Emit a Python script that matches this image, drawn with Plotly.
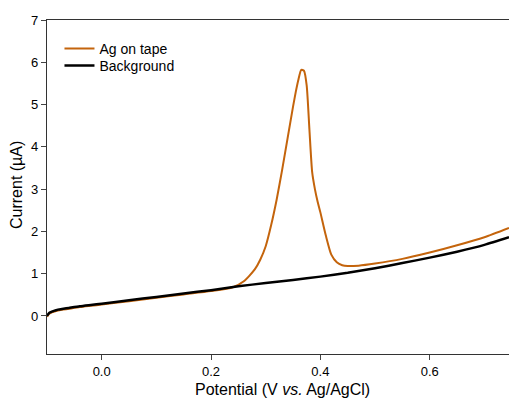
import plotly.graph_objects as go

# Background scan
bg_x = [-0.1, -0.098, -0.095, -0.09, -0.085, -0.08, -0.07, -0.06, -0.04, -0.02, 0.0,
        0.05, 0.1, 0.15, 0.2, 0.25, 0.3, 0.35, 0.4, 0.45, 0.5, 0.55, 0.6, 0.65, 0.7, 0.745]
bg_y = [0.0, 0.04, 0.08, 0.11, 0.13, 0.15, 0.17, 0.19, 0.23, 0.26, 0.29,
        0.37, 0.45, 0.53, 0.61, 0.70, 0.78, 0.85, 0.93, 1.02, 1.13, 1.25, 1.38, 1.52, 1.68, 1.86]

# Ag on tape scan
ag_x = [-0.1, -0.098, -0.095, -0.09, -0.085, -0.08, -0.07, -0.06, -0.04, -0.02, 0.0,
        0.05, 0.1, 0.15, 0.2, 0.24, 0.26, 0.28, 0.29, 0.30, 0.31, 0.32, 0.33, 0.34, 0.35,
        0.355, 0.36, 0.365, 0.37, 0.375, 0.38, 0.385, 0.39, 0.395, 0.40, 0.41, 0.42, 0.43,
        0.44, 0.45, 0.47, 0.5, 0.55, 0.6, 0.65, 0.7, 0.745]
ag_y = [-0.02, 0.02, 0.06, 0.09, 0.11, 0.13, 0.15, 0.17, 0.21, 0.24, 0.27,
        0.35, 0.43, 0.51, 0.59, 0.68, 0.82, 1.10, 1.33, 1.65, 2.15, 2.75, 3.45, 4.2, 4.95,
        5.3, 5.6, 5.82, 5.8, 5.45, 4.4, 3.4, 3.0, 2.7, 2.45, 1.9, 1.45, 1.27,
        1.2, 1.18, 1.19, 1.24, 1.35, 1.5, 1.67, 1.86, 2.08]

x_ticks = [0.0, 0.2, 0.4, 0.6]
x_tick_labels = ["0.0", "0.2", "0.4", "0.6"]
y_ticks = [0, 1, 2, 3, 4, 5, 6, 7]

ORANGE = "#c4640c"

fig = go.Figure()
fig.add_trace(go.Scatter(x=ag_x, y=ag_y, mode="lines", name="Ag on tape", legend="legend",
                         line=dict(color=ORANGE, width=2, shape="spline", smoothing=0.6)))
fig.add_trace(go.Scatter(x=bg_x, y=bg_y, mode="lines", name="Background", legend="legend2",
                         line=dict(color="black", width=2.5, shape="spline", smoothing=0.6)))

font = "Liberation Sans, Arial, sans-serif"
leg_common = dict(xanchor="left", yanchor="middle", bgcolor="rgba(0,0,0,0)",
                  font=dict(size=14), borderwidth=0)
fig.update_layout(
    width=509, height=401,
    margin=dict(l=47, r=0, t=20, b=47),
    paper_bgcolor="white", plot_bgcolor="white",
    font=dict(family=font, color="black", size=13),
    showlegend=True,
    legend=dict(x=0.027, y=0.9132, **leg_common),
    legend2=dict(x=0.027, y=0.8623, **leg_common),
    xaxis=dict(range=[-0.1, 0.745], tickvals=x_ticks, ticktext=x_tick_labels,
               ticks="outside", ticklen=5, tickcolor="#444", showgrid=False, zeroline=False,
               showline=True, mirror=True, linecolor="#333", linewidth=1.2,
               automargin=False, tickfont=dict(size=13)),
    yaxis=dict(range=[-0.9, 7], tickvals=y_ticks,
               ticks="outside", ticklen=5, tickcolor="#444", showgrid=False, zeroline=False,
               showline=True, mirror=True, linecolor="#333", linewidth=1.2,
               automargin=False, tickfont=dict(size=13)),
    annotations=[
        dict(text="Potential (V <i>vs.</i> Ag/AgCl)", xref="paper", yref="paper",
             x=0.5108, y=-0.1048, xanchor="center", yanchor="middle",
             showarrow=False, font=dict(size=16)),
        dict(text="Current (µA)", xref="paper", yref="paper",
             x=-0.0649, y=0.506, xanchor="center", yanchor="middle", textangle=-90,
             showarrow=False, font=dict(size=16)),
    ],
)

fig.write_html("out.html", config={"displayModeBar": False},
               post_script="document.body.style.margin='0';")
